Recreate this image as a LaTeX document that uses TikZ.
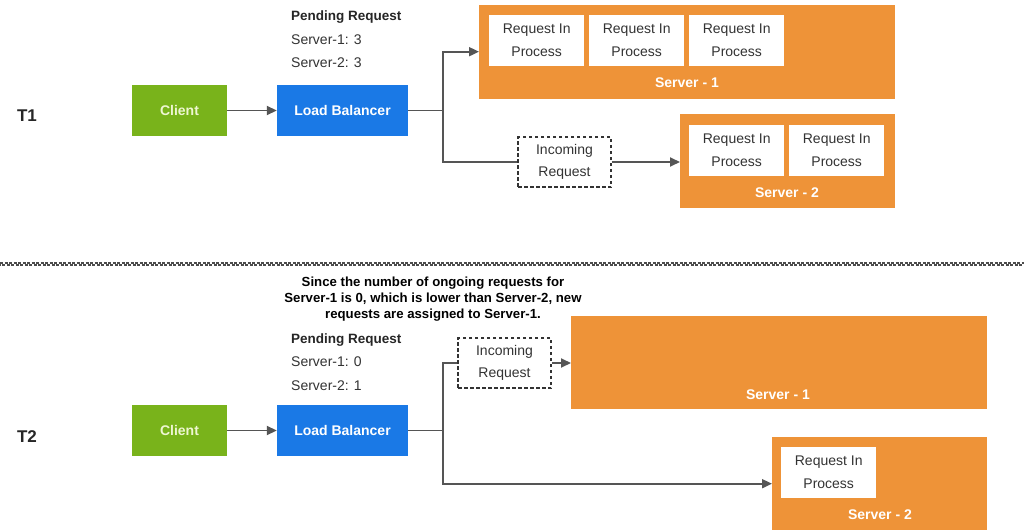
\documentclass[tikz,border=0pt]{standalone}
\usepackage{fontspec}
\setmainfont{Liberation Sans}
\usetikzlibrary{arrows.meta}
\definecolor{orng}{HTML}{EE9338}
\definecolor{grn}{HTML}{79B31B}
\definecolor{blu}{HTML}{1A79E6}
\definecolor{conn}{HTML}{555555}
\definecolor{txt}{HTML}{333333}
\definecolor{clienttxt}{HTML}{EEF6D2}
\tikzset{
  server/.style={fill=orng, draw=none, inner sep=0pt, anchor=north west},
  srvlabel/.style={text=white, font=\fontsize{14}{15}\selectfont\bfseries},
  procbox/.style={fill=white, draw=none, minimum width=95pt, minimum height=51pt, inner sep=0pt, anchor=north west, align=center, text=txt, font=\fontsize{14}{23}\selectfont},
  clientbox/.style={fill=grn, minimum width=95pt, minimum height=51pt, inner sep=0pt, text=clienttxt, font=\fontsize{14}{15}\selectfont\bfseries},
  lbbox/.style={fill=blu, minimum width=131pt, minimum height=51pt, inner sep=0pt, text=white, font=\fontsize{14}{15}\selectfont\bfseries},
  incbox/.style={draw=txt, line width=1.8pt, dash pattern=on 3.5pt off 2.5pt, minimum width=93pt, minimum height=50pt, inner sep=0pt, align=center, text=txt, font=\fontsize{14}{22}\selectfont},
  pend/.style={anchor=west, inner sep=0pt, text=txt, font=\fontsize{14}{15}\selectfont},
  pendh/.style={anchor=west, inner sep=0pt, text=black!85, font=\fontsize{13.5}{15}\selectfont\bfseries},
  tlabel/.style={inner sep=0pt, text=black!85, font=\fontsize{17}{18}\selectfont\bfseries},
  line/.style={draw=conn, line width=1.8pt},
  arr/.style={line, -{Triangle[length=10pt,width=9pt]}},
}
\begin{document}
\begin{tikzpicture}[x=1pt,y=-1pt]
\useasboundingbox (0,0) rectangle (1024,532);
\fill[white] (0,0) rectangle (1024,532);

% ---------------- T1 ----------------
\node[tlabel] (t1) at (27,116) {T1};
\node[clientbox] (c1) at (179.5,110.5) {Client};
\node[lbbox] (lb1) at (342.5,110.5) {Load Balancer};
\node[pendh] (ph1) at (291,17) {Pending Request};
\node[pend] (pa1) at (291,40) {Server-1: 3};
\node[pend] (pb1) at (291,63) {Server-2: 3};

\node[server, minimum width=416pt, minimum height=94pt] (s1t1) at (479,4.5) {};
\node[procbox] (r11) at (489,15) {Request In\\Process};
\node[procbox] (r12) at (589,15) {Request In\\Process};
\node[procbox] (r13) at (689,15) {Request In\\Process};
\node[srvlabel] (l1t1) at (687,83) {Server - 1};

\node[server, minimum width=215pt, minimum height=94pt] (s2t1) at (680,114) {};
\node[procbox] (r21) at (689,124.5) {Request In\\Process};
\node[procbox] (r22) at (789,124.5) {Request In\\Process};
\node[srvlabel] (l2t1) at (787,193) {Server - 2};

\node[incbox] (inc1) at (564.5,162) {Incoming\\Request};

\coordinate (b1) at (443,110.5);
\draw[arr] (c1.east) -- (lb1.west);
\draw[line] (lb1.east) -- (b1);
\draw[arr] (b1) |- (s1t1.west);
\draw[line] (b1) |- (inc1.west);
\draw[arr] (inc1.east) -- (inc1.east -| s2t1.west);

% ---------------- separator ----------------
\draw[draw=black!70, line width=1.5pt, dash pattern=on 3pt off 1.5pt] (0,263.2) -- (1024,263.2);
\draw[draw=black!70, line width=1.5pt, dash pattern=on 3pt off 1.5pt, dash phase=2.2pt] (0,264.8) -- (1024,264.8);

% ---------------- T2 ----------------
\node[inner sep=0pt, align=center, text=black, font=\fontsize{13.2}{16}\selectfont\bfseries] (cap) at (433,299)
  {Since the number of ongoing requests for\\Server-1 is 0, which is lower than Server-2, new\\requests are assigned to Server-1.};

\node[tlabel] (t2) at (27,437) {T2};
\node[clientbox] (c2) at (179.5,430.5) {Client};
\node[lbbox] (lb2) at (342.5,430.5) {Load Balancer};
\node[pendh] (ph2) at (291,340) {Pending Request};
\node[pend] (pa2) at (291,362) {Server-1: 0};
\node[pend] (pb2) at (291,386) {Server-2: 1};

\node[incbox] (inc2) at (504.5,363) {Incoming\\Request};

\node[server, minimum width=416pt, minimum height=93pt] (s1t2) at (571,316) {};
\node[srvlabel] (l1t2) at (778,395) {Server - 1};

\node[server, minimum width=215pt, minimum height=93pt] (s2t2) at (772,437) {};
\node[procbox] (r31) at (781,447) {Request In\\Process};
\node[srvlabel] (l2t2) at (880,515) {Server - 2};

\coordinate (b2) at (443,430.5);
\draw[arr] (c2.east) -- (lb2.west);
\draw[line] (lb2.east) -- (b2);
\draw[line] (b2) |- (inc2.west);
\draw[arr] (inc2.east) -- (inc2.east -| s1t2.west);
\draw[arr] (b2) |- (s2t2.west);
\end{tikzpicture}
\end{document}
